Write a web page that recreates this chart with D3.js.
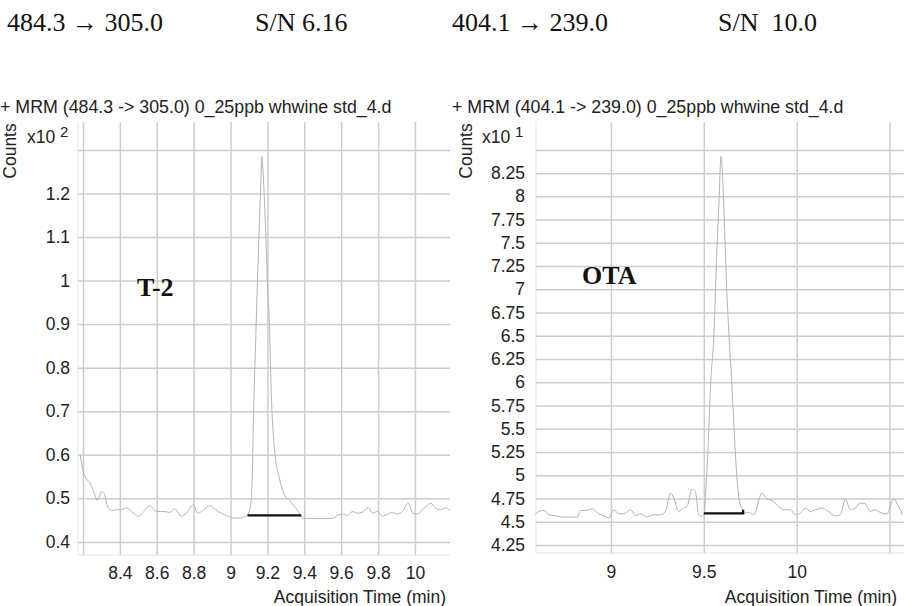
<!DOCTYPE html>
<html>
<head>
<meta charset="utf-8">
<script src="https://cdn.jsdelivr.net/npm/d3@7"></script>
<style>
  body { margin: 0; background: #fff; }
  svg { display: block; }
</style>
</head>
<body>
<div id="chart"></div>
<script>
// T-2 trace, 484.3 -> 305.0 (counts x10^2)
const leftTime = [8.185, 8.200, 8.211, 8.238, 8.265, 8.277, 8.290, 8.301, 8.314, 8.332, 8.355, 8.382, 8.409, 8.436, 8.463, 8.499, 8.526, 8.562, 8.598, 8.634, 8.670, 8.697, 8.733, 8.760, 8.796, 8.823, 8.850, 8.886, 8.932, 8.977, 9.013, 9.049, 9.085, 9.106, 9.117, 9.124, 9.139, 9.153, 9.166, 9.169, 9.175, 9.189, 9.202, 9.211, 9.220, 9.238, 9.265, 9.292, 9.320, 9.346, 9.377, 9.391, 9.553, 9.580, 9.607, 9.634, 9.661, 9.688, 9.715, 9.748, 9.769, 9.796, 9.823, 9.850, 9.877, 9.905, 9.932, 9.964, 9.989, 10.013, 10.040, 10.063, 10.085, 10.112, 10.139, 10.166, 10.190];
const leftCounts = [0.600, 0.565, 0.550, 0.535, 0.508, 0.495, 0.505, 0.516, 0.512, 0.483, 0.472, 0.474, 0.474, 0.478, 0.470, 0.459, 0.468, 0.483, 0.470, 0.470, 0.468, 0.476, 0.459, 0.466, 0.485, 0.466, 0.472, 0.483, 0.470, 0.461, 0.455, 0.455, 0.459, 0.477, 0.539, 0.677, 0.900, 1.090, 1.244, 1.285, 1.258, 1.129, 0.975, 0.900, 0.753, 0.615, 0.546, 0.509, 0.495, 0.482, 0.463, 0.454, 0.454, 0.461, 0.464, 0.461, 0.470, 0.466, 0.468, 0.479, 0.466, 0.470, 0.459, 0.463, 0.468, 0.464, 0.470, 0.489, 0.466, 0.464, 0.474, 0.482, 0.489, 0.478, 0.474, 0.478, 0.472];
const leftBaseTime = [9.092, 9.384];
const leftBaseCounts = [0.461, 0.461];

// OTA trace, 404.1 -> 239.0 (counts x10^1)
const rightTime = [8.591, 8.613, 8.640, 8.667, 8.703, 8.738, 8.774, 8.819, 8.837, 8.864, 8.900, 8.935, 8.971, 8.989, 9.016, 9.043, 9.070, 9.106, 9.133, 9.160, 9.195, 9.231, 9.267, 9.294, 9.321, 9.339, 9.366, 9.392, 9.410, 9.437, 9.455, 9.473, 9.491, 9.504, 9.509, 9.522, 9.536, 9.556, 9.566, 9.581, 9.593, 9.608, 9.620, 9.634, 9.652, 9.670, 9.688, 9.697, 9.710, 9.715, 9.742, 9.769, 9.814, 9.840, 9.867, 9.903, 9.930, 9.966, 9.993, 10.020, 10.047, 10.073, 10.100, 10.136, 10.163, 10.208, 10.235, 10.262, 10.289, 10.315, 10.342, 10.369, 10.396, 10.423, 10.450, 10.486, 10.522, 10.548, 10.570];
const rightCounts = [4.575, 4.611, 4.622, 4.575, 4.565, 4.550, 4.550, 4.550, 4.622, 4.622, 4.640, 4.586, 4.557, 4.539, 4.629, 4.586, 4.586, 4.629, 4.565, 4.586, 4.550, 4.575, 4.575, 4.611, 4.808, 4.755, 4.611, 4.647, 4.665, 4.852, 4.826, 4.575, 4.557, 4.600, 4.770, 5.240, 5.950, 6.570, 7.180, 7.890, 8.430, 7.890, 7.180, 6.570, 5.950, 5.240, 4.770, 4.680, 4.630, 4.593, 4.600, 4.575, 4.808, 4.744, 4.730, 4.665, 4.629, 4.629, 4.575, 4.593, 4.647, 4.611, 4.629, 4.647, 4.622, 4.565, 4.575, 4.744, 4.629, 4.647, 4.701, 4.694, 4.611, 4.629, 4.600, 4.586, 4.744, 4.665, 4.575];
const rightBaseTime = [9.500, 9.712, 9.712];
const rightBaseCounts = [4.590, 4.590, 4.628];

// axis ticks
const leftXTicks = [8.2, 8.4, 8.6, 8.8, 9, 9.2, 9.4, 9.6, 9.8, 10];
const leftXLabels = [8.4, 8.6, 8.8, 9, 9.2, 9.4, 9.6, 9.8, 10];
const leftYTicks = [0.4, 0.5, 0.6, 0.7, 0.8, 0.9, 1, 1.1, 1.2, 1.3];
const leftYLabels = [0.4, 0.5, 0.6, 0.7, 0.8, 0.9, 1, 1.1, 1.2];
const rightXTicks = [9, 9.5, 10, 10.5];
const rightXLabels = [9, 9.5, 10];
const rightYTicks = [4.25, 4.5, 4.75, 5, 5.25, 5.5, 5.75, 6, 6.25, 6.5, 6.75, 7, 7.25, 7.5, 7.75, 8, 8.25, 8.5];
const rightYLabels = [4.25, 4.5, 4.75, 5, 5.25, 5.5, 5.75, 6, 6.25, 6.5, 6.75, 7, 7.25, 7.5, 7.75, 8, 8.25];

const headTexts = ["484.3 \u2192 305.0", "S/N 6.16", "404.1 \u2192 239.0", "S/N  10.0"];

const W = 904, H = 606;
const sans = "'Liberation Sans', Arial, sans-serif";
const serif = "'Liberation Serif', 'Times New Roman', serif";

const svg = d3.select("#chart")
  .append("svg")
  .attr("width", W)
  .attr("height", H);

svg.append("rect").attr("width", W).attr("height", H).attr("fill", "#fff");

// header line (serif)
const headX = [7, 255, 452, 718];
svg.append("g")
  .selectAll("text")
  .data(headTexts)
  .join("text")
  .attr("x", (d, i) => headX[i])
  .attr("y", 31)
  .style("font", "26px " + serif)
  .style("white-space", "pre")
  .attr("fill", "#111")
  .text(d => d);

function drawPanel(p) {
  const x = d3.scaleLinear().domain(p.xDomain).range([p.left, p.right]);
  const y = d3.scaleLinear().domain(p.yDomain).range([p.bottom, p.top]);
  const g = svg.append("g");

  // faint frame (left + bottom only)
  g.append("path")
    .attr("d", "M" + p.left + "," + p.top + "V" + p.bottom + "H" + p.right)
    .attr("fill", "none")
    .attr("stroke", "#e6e6e6")
    .attr("stroke-width", 1);

  // y grid + labels
  const yAxis = g.append("g")
    .attr("transform", "translate(" + p.left + ",0)")
    .call(d3.axisLeft(y)
      .tickValues(p.yTicks)
      .tickSize(-(p.right - p.left))
      .tickPadding(p.yPad)
      .tickFormat(d => p.yLabels.includes(d) ? String(d) : ""));
  yAxis.select(".domain").remove();
  yAxis.selectAll("line").attr("stroke", "#cdcdcd").attr("stroke-width", 1.5);
  yAxis.selectAll("text").style("font", "17.5px " + sans).attr("fill", "#222");

  // x grid + labels
  const xAxis = g.append("g")
    .attr("transform", "translate(0," + p.bottom + ")")
    .call(d3.axisBottom(x)
      .tickValues(p.xTicks)
      .tickSize(-(p.bottom - p.top))
      .tickPadding(p.xPad)
      .tickFormat(d => p.xLabels.includes(d) ? String(d) : ""));
  xAxis.select(".domain").remove();
  xAxis.selectAll("line").attr("stroke", "#cdcdcd").attr("stroke-width", 1.5);
  xAxis.selectAll("text").style("font", "17.5px " + sans).attr("fill", "#222");

  // trace
  const pts = p.time.map((t, i) => [t, p.counts[i]]);
  const line = d3.line()
    .x(d => x(d[0]))
    .y(d => y(d[1]))
    .curve(d3.curveMonotoneX);
  g.append("path")
    .datum(pts)
    .attr("fill", "none")
    .attr("stroke", "#b4b4b4")
    .attr("stroke-width", 1)
    .attr("d", line);

  // integration baseline
  const base = p.baseTime.map((t, i) => [t, p.baseCounts[i]]);
  g.append("path")
    .datum(base)
    .attr("fill", "none")
    .attr("stroke", "#111")
    .attr("stroke-width", 2.2)
    .attr("d", d3.line().x(d => x(d[0])).y(d => y(d[1])));

  // title
  g.append("text")
    .attr("x", p.titleX)
    .attr("y", 113)
    .style("font", "17.8px " + sans)
    .attr("fill", "#222")
    .text(p.title);

  // Counts
  g.append("text")
    .attr("transform", "translate(" + p.countsX + ",151) rotate(-90)")
    .attr("text-anchor", "middle")
    .style("font", "17.5px " + sans)
    .attr("fill", "#222")
    .text("Counts");

  // multiplier
  const mult = g.append("text")
    .attr("x", p.multX)
    .attr("y", 143)
    .style("font", "17.5px " + sans)
    .attr("fill", "#222")
    .text("x10 ");
  mult.append("tspan")
    .attr("dy", -6)
    .style("font-size", "15px")
    .text(p.exp);

  // x-axis title
  g.append("text")
    .attr("x", p.xTitleX)
    .attr("y", 603)
    .attr("text-anchor", "end")
    .style("font", "17.5px " + sans)
    .attr("fill", "#222")
    .text("Acquisition Time (min)");

  // compound label
  g.append("text")
    .attr("x", p.nameX)
    .attr("y", p.nameY)
    .style("font", "bold 26px " + serif)
    .attr("fill", "#111")
    .text(p.name);
}

drawPanel({
  xDomain: [8.173, 10.19], yDomain: [0.370, 1.364],
  left: 78, right: 450, top: 122, bottom: 555,
  xTicks: leftXTicks, xLabels: leftXLabels, yTicks: leftYTicks, yLabels: leftYLabels,
  yPad: 8, xPad: 12,
  time: leftTime, counts: leftCounts, baseTime: leftBaseTime, baseCounts: leftBaseCounts,
  title: "+ MRM (484.3 -> 305.0) 0_25ppb whwine std_4.d", titleX: 0,
  countsX: 16, multX: 27, exp: "2", xTitleX: 446,
  name: "T-2", nameX: 137, nameY: 296
});

drawPanel({
  xDomain: [8.597, 10.61], yDomain: [4.164, 8.80],
  left: 536, right: 910, top: 122, bottom: 553,
  xTicks: rightXTicks, xLabels: rightXLabels, yTicks: rightYTicks, yLabels: rightYLabels,
  yPad: 11, xPad: 13,
  time: rightTime, counts: rightCounts, baseTime: rightBaseTime, baseCounts: rightBaseCounts,
  title: "+ MRM (404.1 -> 239.0) 0_25ppb whwine std_4.d", titleX: 452,
  countsX: 472, multX: 482, exp: "1", xTitleX: 897,
  name: "OTA", nameX: 582, nameY: 284
});
</script>
</body>
</html>
